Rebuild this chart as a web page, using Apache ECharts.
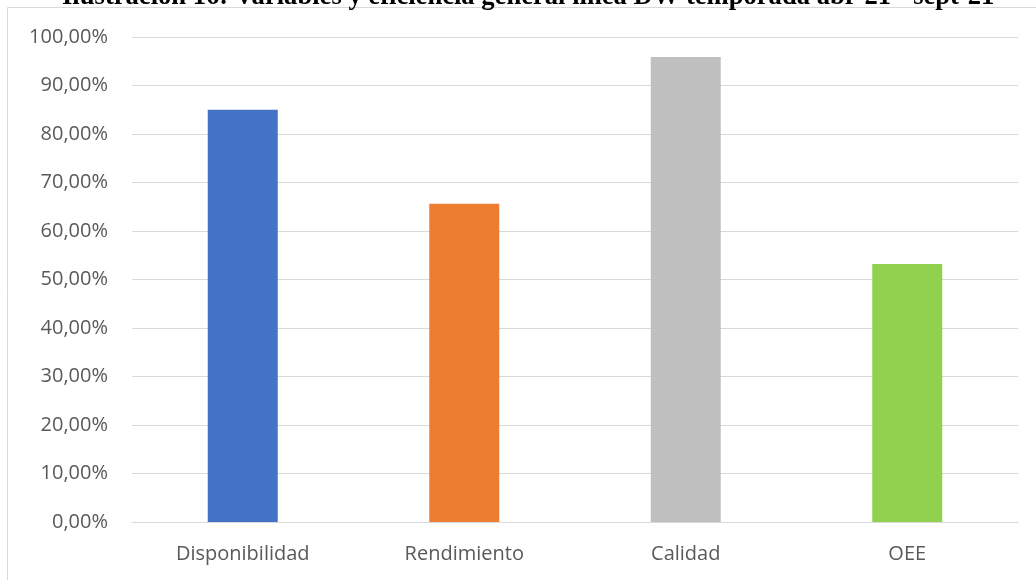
<!DOCTYPE html>
<html>
<head>
<meta charset="utf-8">
<script src="https://cdn.jsdelivr.net/npm/echarts@6/dist/echarts.min.js"></script>
<style>
  html, body { margin: 0; padding: 0; background: #fff; }
  #chart { width: 1036px; height: 580px; }
</style>
</head>
<body>
<div id="chart"></div>
<script>
// Indicadores de la línea DW, temporada abr-21 a sept-21 (porcentaje)
const categories = ['Disponibilidad', 'Rendimiento', 'Calidad', 'OEE'];
const values = [85.0, 65.6, 95.9, 53.2];
const barColors = ['#4472C4', '#ED7D31', '#BFBFBF', '#92D050'];
const titleText = 'Ilustración 16: Variables y eficiencia general línea DW temporada abr-21 - sept-21';

const chart = echarts.init(document.getElementById('chart'), null, { renderer: 'canvas' });

const fmtPct = v => v.toFixed(2).replace('.', ',') + '%';

chart.setOption({
  animation: false,
  backgroundColor: '#ffffff',
  title: {
    text: titleText,
    left: 62,
    top: -16,
    padding: 0,
    textStyle: {
      fontFamily: '"Liberation Serif", "Times New Roman", serif',
      fontWeight: 'bold',
      fontSize: 26.6,
      color: '#000000'
    }
  },
  graphic: [{
    type: 'rect',
    shape: { x: 7.5, y: 7.5, width: 1200, height: 1000 },
    style: { fill: 'none', stroke: '#d9d9d9', lineWidth: 1 },
    silent: true
  }],
  grid: { left: 132, right: 18, top: 37, bottom: 58 },
  xAxis: {
    type: 'category',
    data: categories,
    axisLine: { lineStyle: { color: '#d9d9d9', width: 1 } },
    axisTick: { show: false },
    axisLabel: {
      color: '#595959',
      fontFamily: '"Open Sans", sans-serif',
      fontSize: 20,
      margin: 22
    }
  },
  yAxis: {
    type: 'value',
    min: 0,
    max: 100,
    interval: 10,
    axisLine: { show: false },
    axisTick: { show: false },
    splitLine: { lineStyle: { color: '#d9d9d9', width: 1 } },
    axisLabel: {
      color: '#595959',
      fontFamily: '"Open Sans", sans-serif',
      fontSize: 20,
      margin: 24,
      formatter: fmtPct
    }
  },
  series: [{
    type: 'bar',
    barWidth: '31.6%',
    data: values.map((v, i) => ({ value: v, itemStyle: { color: barColors[i] } }))
  }]
});
</script>
</body>
</html>
